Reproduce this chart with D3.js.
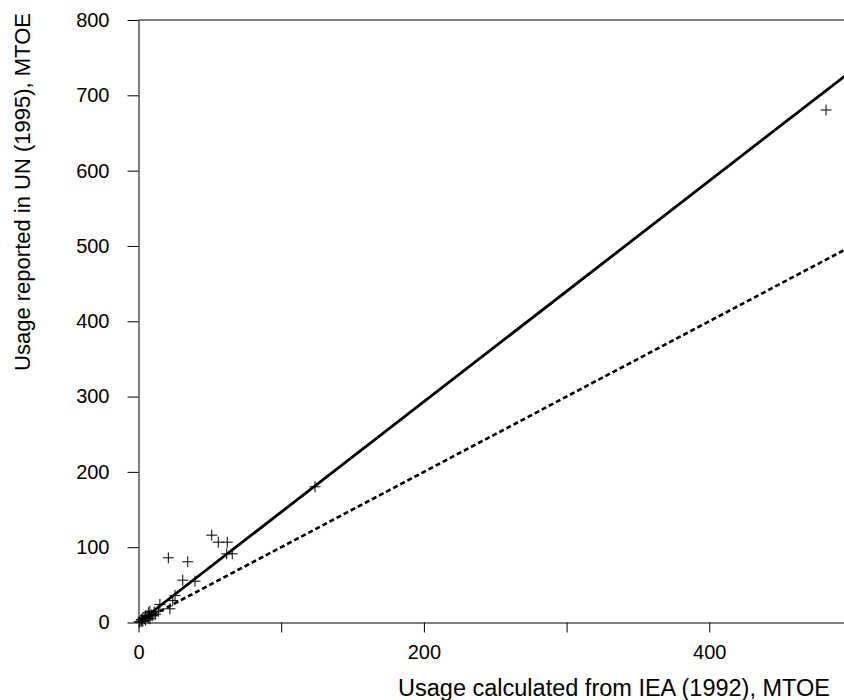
<!DOCTYPE html>
<html>
<head>
<meta charset="utf-8">
<script src="https://cdn.jsdelivr.net/npm/d3@7"></script>
<style>
  body { margin: 0; background: #fff; }
  svg { display: block; font-family: "Liberation Sans", Arial, sans-serif; }
</style>
</head>
<body>
<div id="chart"></div>
<script>
// data (MTOE)
const iea = [51.3, 55.9, 62.2, 61.8, 65.7, 20.9, 34.5, 31, 39.6, 25.6, 24, 22, 15, 13.9, 8, 6.9, 123.7, 481.8, 497,
             1, 2, 3, 4, 5, 6, 7, 9, 10, 3, 11, 12, 2, 5, 8, 0.5];
const un  = [116, 106.7, 106.7, 91.2, 91.2, 85.9, 80.6, 56.2, 54.9, 35.9, 29, 18.2, 24, 15, 15, 13, 180.2, 680.5, 725,
             0.5, 2, 1.5, 5, 3, 8, 6, 10, 9, 6, 14, 11, 4, 9, 5, 1];
const xTicks = [0, 100, 200, 300, 400, 500];
const xLabels = [0, 200, 400];
const yTicks = [0, 100, 200, 300, 400, 500, 600, 700, 800];
const fitSlope = 1.466;  // solid line
const eqSlope = 1;       // dashed line, y = x

const width = 844, height = 700;
const margin = {top: 20, left: 138.5, bottom: 77};

const svg = d3.select('#chart').append('svg')
  .attr('width', width)
  .attr('height', height);

const x = d3.scaleLinear().domain([0, 500]).range([margin.left, margin.left + 713.5]);
const y = d3.scaleLinear().domain([0, 800]).range([height - margin.bottom - 0.5, margin.top]);

// x axis
const xAxis = svg.append('g')
  .attr('transform', 'translate(0,' + y(0) + ')')
  .call(d3.axisBottom(x).tickValues(xTicks).tickSize(10).tickSizeOuter(0)
    .tickFormat(d => xLabels.includes(d) ? d : ''));
xAxis.selectAll('text').attr('font-size', 20).attr('y', 22).attr('fill', '#000');

// y axis
const yAxis = svg.append('g')
  .attr('transform', 'translate(' + x(0) + ',0)')
  .call(d3.axisLeft(y).tickValues(yTicks).tickSize(11).tickSizeOuter(0));
yAxis.selectAll('text').attr('font-size', 20).attr('x', -29).attr('fill', '#000');
svg.selectAll('.domain, .tick line').attr('stroke', '#000');

// top frame line
svg.append('line')
  .attr('x1', x(0)).attr('x2', width)
  .attr('y1', y(800)).attr('y2', y(800))
  .attr('stroke', '#000');

// reference lines
const lineGen = slope => d3.line()([[x(0), y(0)], [x(500), y(500 * slope)]]);
svg.append('path')
  .attr('d', lineGen(eqSlope))
  .attr('stroke', '#000').attr('stroke-width', 2.6)
  .attr('stroke-dasharray', '5,3').attr('fill', 'none');
svg.append('path')
  .attr('d', lineGen(fitSlope))
  .attr('stroke', '#000').attr('stroke-width', 2.8).attr('fill', 'none');

// points as + markers
svg.append('g').selectAll('path')
  .data(iea.map((d, i) => [d, un[i]]))
  .join('path')
  .attr('transform', d => 'translate(' + x(d[0]) + ',' + y(d[1]) + ')')
  .attr('d', 'M-5.5,0H5.5M0,-5.5V5.5')
  .attr('stroke', '#000').attr('stroke-width', 1).attr('fill', 'none');

// axis titles
svg.append('text')
  .attr('x', 614).attr('y', 696)
  .attr('text-anchor', 'middle')
  .attr('font-size', 23.5)
  .text('Usage calculated from IEA (1992), MTOE');

svg.append('text')
  .attr('transform', 'translate(30,192) rotate(-90)')
  .attr('text-anchor', 'middle')
  .attr('font-size', 22)
  .text('Usage reported in UN (1995), MTOE');
</script>
</body>
</html>
